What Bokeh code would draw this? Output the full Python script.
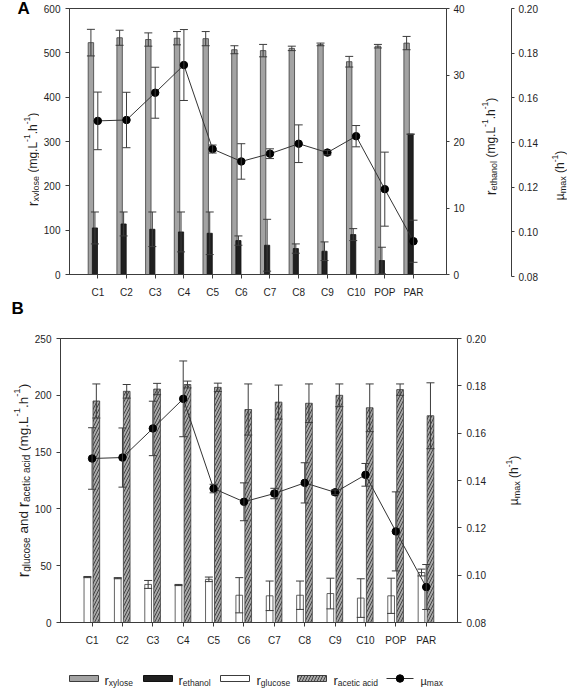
import math
from bokeh.plotting import figure
from bokeh.models import (Range1d, LinearAxis, FixedTicker, NumeralTickFormatter,
                          Whisker, TeeHead, ColumnDataSource, Label)
from bokeh.layouts import column, row
from bokeh.embed import file_html
from bokeh.resources import INLINE

# ---------------- data ----------------
cats = ["C1", "C2", "C3", "C4", "C5", "C6", "C7", "C8", "C9", "C10", "POP", "PAR"]
xylose = [523, 534, 530, 533, 532, 507, 505, 510, 519, 480, 515, 522]
xylose_err = [30, 17, 15, 15, 16, 9, 14, 5, 3, 12, 4, 15]
ethanol = [7.0, 7.6, 6.8, 6.4, 6.2, 5.1, 4.4, 3.9, 3.5, 6.0, 2.1, 21.1]
ethanol_err = [2.4, 1.8, 2.6, 3.0, 3.2, 0.7, 3.9, 0.7, 1.4, 0.9, 2.0, 0.0]
mu_max = [0.1493, 0.1497, 0.162, 0.1745, 0.1366, 0.131, 0.1345, 0.139, 0.135, 0.1424, 0.1185, 0.095]
mu_err = [0.013, 0.0125, 0.0115, 0.016, 0.0018, 0.008, 0.0022, 0.0085, 0.001, 0.0048, 0.0167, 0.0095]
glucose = [40, 39, 33.5, 33, 38, 24, 23.5, 24, 25.5, 21.5, 23.5, 44]
glucose_err = [0.5, 0.5, 3.5, 0.5, 2, 15.5, 13, 12.5, 13.5, 17, 15.5, 3]
acetic = [195, 203.5, 205.5, 209.5, 207, 187.5, 194, 193, 200, 189, 205, 182]
acetic_err = [15, 6, 5, 3, 3.7, 22.5, 15, 17, 10, 21, 5, 29]

yticks_xyl = [0, 100, 200, 300, 400, 500, 600]
yticks_eth = [0, 10, 20, 30, 40]
yticks_mu = [0.08, 0.10, 0.12, 0.14, 0.16, 0.18, 0.20]
yticks_b = [0, 50, 100, 150, 200, 250]

xs = list(range(1, len(cats) + 1))

FONT = "Liberation Sans"
AX = "#3c3c3c"
TXT = "#1e1e1e"

# approximate Arial advance widths (em)
CW = {' ': .278, '(': .333, ')': .333, '.': .278, '-': .333, '1': .556, 'L': .556,
      'a': .556, 'c': .5, 'd': .556, 'e': .556, 'g': .556, 'h': .556, 'i': .222,
      'l': .222, 'm': .833, 'n': .556, 'o': .556, 'r': .333, 's': .5, 't': .278,
      'u': .556, 'x': .5, 'y': .5, 'µ': .576}


def tlen(s, fs):
    return sum(CW.get(c, .556) for c in s) * fs


def rich(p, parts, x0, y0, sizes, vertical, center=True):
    """Place a text with sub/superscripts as consecutive labels (pixel-like data units)."""
    total = sum(tlen(t, sizes[k]) for t, k in parts)
    pos = -total / 2 if center else 0.0
    base = sizes["n"]
    for txt, kind in parts:
        fs = sizes[kind]
        shift = {"n": 0.0, "r": 0.0, "sub": -0.25 * base, "sup": 0.42 * base}[kind]
        lead = len(txt) - len(txt.lstrip(' '))
        trail = len(txt) - len(txt.rstrip(' '))
        pos += tlen(' ' * lead, fs)
        body = txt.strip(' ')
        if vertical:
            x, y, ang = x0 - shift, y0 + pos, math.pi / 2
        else:
            x, y, ang = x0 + pos, y0 + shift, 0.0
        if body:
            p.add_layout(Label(x=x, y=y, text=body, angle=ang,
                               text_font=FONT, text_font_size=f"{fs:.1f}px", text_color=TXT,
                               text_align="left", text_baseline="alphabetic"))
        pos += tlen(body, fs) + tlen(' ' * trail, fs)


def style_axis(ax, fmt=None, tick=4, standoff=5):
    ax.axis_line_color = AX
    ax.major_tick_line_color = AX
    ax.major_tick_in = 0
    ax.major_tick_out = tick
    ax.minor_tick_line_color = None
    ax.major_label_text_font = FONT
    ax.major_label_text_font_size = "10px"
    ax.major_label_text_color = TXT
    ax.major_label_standoff = standoff
    if fmt:
        ax.formatter = NumeralTickFormatter(format=fmt)


def base_fig(w, h, xr, yr, ml, mr, mt, mb):
    p = figure(width=w, height=h, x_range=xr, y_range=yr, output_backend="svg",
               toolbar_location=None, min_border_left=ml, min_border_right=mr,
               min_border_top=mt, min_border_bottom=mb, frame_align=False)
    p.xgrid.visible = False
    p.ygrid.visible = False
    p.outline_line_color = AX
    p.outline_line_width = 1
    p.background_fill_color = "white"
    p.border_fill_color = "white"
    return p


def blank_fig(w, h, xr, yr, mr=0, mt=0, mb=0):
    """A figure without axes; its frame hosts text labels in pixel-like units."""
    p = figure(width=w, height=h, x_range=xr, y_range=yr, output_backend="svg",
               toolbar_location=None, x_axis_location=None, y_axis_location=None,
               min_border_left=0, min_border_right=mr, min_border_top=mt, min_border_bottom=mb,
               frame_align=False)
    p.xgrid.visible = False
    p.ygrid.visible = False
    p.outline_line_color = None
    p.background_fill_color = "white"
    p.border_fill_color = "white"
    return p


def whisk(p, xv, vals, errs, size=8, rname="default"):
    src = ColumnDataSource(dict(x=xv, up=[v + e for v, e in zip(vals, errs)],
                                lo=[v - e for v, e in zip(vals, errs)]))
    w = Whisker(base="x", upper="up", lower="lo", source=src, dimension="height",
                line_color=AX, line_width=1,
                upper_head=TeeHead(size=size, line_color=AX, line_width=1),
                lower_head=TeeHead(size=size, line_color=AX, line_width=1),
                y_range_name=rname, level="overlay")
    p.add_layout(w)


SZ_A = {"n": 12, "r": 14.5, "sub": 9, "sup": 8.5}
SZ_B = {"n": 13.5, "r": 16, "sub": 10, "sup": 9.5}
P_ETH = [("r", "r"), ("ethanol", "sub"), (" (mg.L", "n"), ("-1", "sup"), (".h", "n"),
         ("-1", "sup"), (")", "n")]
P_XYL = [("r", "r"), ("xylose", "sub"), (" (mg.L", "n"), ("-1", "sup"), (".h", "n"),
         ("-1", "sup"), (")", "n")]
P_MU = [("µ", "n"), ("max", "sub"), (" (h", "n"), ("-1", "sup"), (")", "n")]

# ---------------- row A (page y 0..300) ----------------
HA = 300
LA = blank_fig(39, HA, Range1d(0, 39), Range1d(0, HA))
LA.add_layout(Label(x=17, y=283, text="A", text_font=FONT, text_font_size="17px",
                    text_font_style="bold", text_color="black"))
rich(LA, P_XYL, 32, 141, SZ_A, True)

pA = base_fig(429, HA, Range1d(0.014, 13.15), Range1d(0, 600), 30, 22, 8, 24)
pA.extra_y_ranges = {"eth": Range1d(0, 40), "mu": Range1d(0.08, 0.20)}
pA.yaxis.ticker = FixedTicker(ticks=yticks_xyl)
eth_ax = LinearAxis(y_range_name="eth", ticker=FixedTicker(ticks=yticks_eth))
pA.add_layout(eth_ax, "right")
pA.xaxis.ticker = FixedTicker(ticks=xs)
pA.xaxis.major_label_overrides = {x: c for x, c in zip(xs, cats)}
style_axis(pA.yaxis[0])
style_axis(eth_ax, tick=3, standoff=4)
style_axis(pA.xaxis[0], standoff=8)

xa_x = [x - 0.24 for x in xs]
xa_e = [x - 0.10 for x in xs]
pA.vbar(x=xa_x, top=xylose, width=0.19, fill_color="#a3a3a3", line_color=AX, line_width=0.8)
pA.vbar(x=xa_e, top=ethanol, width=0.18, fill_color="#202020", line_color="#111111",
        line_width=0.8, y_range_name="eth")
whisk(pA, xa_x, xylose, xylose_err)
whisk(pA, xa_e, ethanol, ethanol_err, rname="eth")
whisk(pA, xs, mu_max, mu_err, rname="mu")
pA.line(xs, mu_max, line_color="#333333", line_width=1, y_range_name="mu")
pA.scatter(xs, mu_max, size=7.5, fill_color="black", line_color="black", y_range_name="mu")

# frame of RA1: page x 468..511, page y 8..276
RA1 = blank_fig(76, HA, Range1d(0, 43), Range1d(0, 268), mr=33, mt=8, mb=24)
RA1.extra_y_ranges = {"mu": Range1d(0.08, 0.20)}
mu_axA = LinearAxis(y_range_name="mu", ticker=FixedTicker(ticks=yticks_mu))
RA1.add_layout(mu_axA, "right")
style_axis(mu_axA, "0.00", tick=3, standoff=4)
rich(RA1, P_ETH, 22, 130, SZ_A, True)

RA2 = blank_fig(23, HA, Range1d(0, 23), Range1d(0, HA))
rich(RA2, P_MU, 15.5, 125, SZ_A, True)

# ---------------- row B (page y 300..650) ----------------
HB = 350
LB = blank_fig(31, HB, Range1d(0, 31), Range1d(0, HB))
LB.add_layout(Label(x=11, y=333, text="B", text_font=FONT, text_font_size="17px",
                    text_font_style="bold", text_color="black"))
rich(LB, [("r", "r"), ("glucose", "sub"), (" and ", "n"), ("r", "r"), ("acetic acid", "sub"),
          (" (mg.L", "n"), ("-1", "sup"), (".h", "n"), ("-1", "sup"), (")", "n")],
     22.5, 170, SZ_B, True)

pB = base_fig(459, HB, Range1d(-0.04, 13.03), Range1d(0, 250), 28, 33, 38, 28)
pB.extra_y_ranges = {"mu": Range1d(0.08, 0.20)}
pB.yaxis.ticker = FixedTicker(ticks=yticks_b)
mu_axB = LinearAxis(y_range_name="mu", ticker=FixedTicker(ticks=yticks_mu))
pB.add_layout(mu_axB, "right")
pB.xaxis.ticker = FixedTicker(ticks=xs)
pB.xaxis.major_label_overrides = {x: c for x, c in zip(xs, cats)}
style_axis(pB.yaxis[0])
style_axis(mu_axB, "0.00")
style_axis(pB.xaxis[0], standoff=8)

xb_g = [x - 0.155 for x in xs]
xb_a = [x + 0.14 for x in xs]
pB.vbar(x=xb_g, top=glucose, width=0.22, fill_color="white", line_color=AX, line_width=0.8)
pB.vbar(x=xb_a, top=acetic, width=0.22, fill_color="#a8a8a8", line_color=AX, line_width=0.8,
        hatch_pattern="/", hatch_color="#2a2a2a", hatch_scale=6, hatch_weight=0.8)
whisk(pB, xb_g, glucose, glucose_err)
whisk(pB, xb_a, acetic, acetic_err)
whisk(pB, xs, mu_max, mu_err, rname="mu")
pB.line(xs, mu_max, line_color="#333333", line_width=1, y_range_name="mu")
pB.scatter(xs, mu_max, size=7.5, fill_color="black", line_color="black", y_range_name="mu")

RB = blank_fig(77, HB, Range1d(0, 77), Range1d(0, HB))
rich(RB, P_MU, 23.5, 170, SZ_A, True)

# ---------------- legend (page y 650..691) ----------------
HL = 41
pL = blank_fig(567, HL, Range1d(0, 567), Range1d(0, HL))
LY = 13
pL.quad(left=[69], right=[98], bottom=[LY - 3], top=[LY + 3], fill_color="#a3a3a3", line_color=AX)
pL.quad(left=[143], right=[172], bottom=[LY - 3], top=[LY + 3], fill_color="#202020", line_color="#111111")
pL.quad(left=[220], right=[249], bottom=[LY - 3], top=[LY + 3], fill_color="white", line_color=AX)
pL.quad(left=[297], right=[326], bottom=[LY - 3], top=[LY + 3], fill_color="#a8a8a8", line_color=AX,
        hatch_pattern="/", hatch_color="#2a2a2a", hatch_scale=6, hatch_weight=0.8)
pL.line([386, 413], [LY, LY], line_color="#333333", line_width=1)
pL.scatter([399.5], [LY], size=7.5, fill_color="black", line_color="black")
SZ_L = {"n": 11, "r": 13, "sub": 8.5, "sup": 8}
rich(pL, [("r", "r"), ("xylose", "sub")], 104, LY - 2, SZ_L, False, center=False)
rich(pL, [("r", "r"), ("ethanol", "sub")], 178, LY - 2, SZ_L, False, center=False)
rich(pL, [("r", "r"), ("glucose", "sub")], 256, LY - 2, SZ_L, False, center=False)
rich(pL, [("r", "r"), ("acetic acid", "sub")], 333, LY - 2, SZ_L, False, center=False)
rich(pL, [("µ", "n"), ("max", "sub")], 420, LY - 2, SZ_L, False, center=False)

layout = column(row(LA, pA, RA1, RA2), row(LB, pB, RB), pL)
open("out.html", "w").write(file_html(layout, INLINE))
